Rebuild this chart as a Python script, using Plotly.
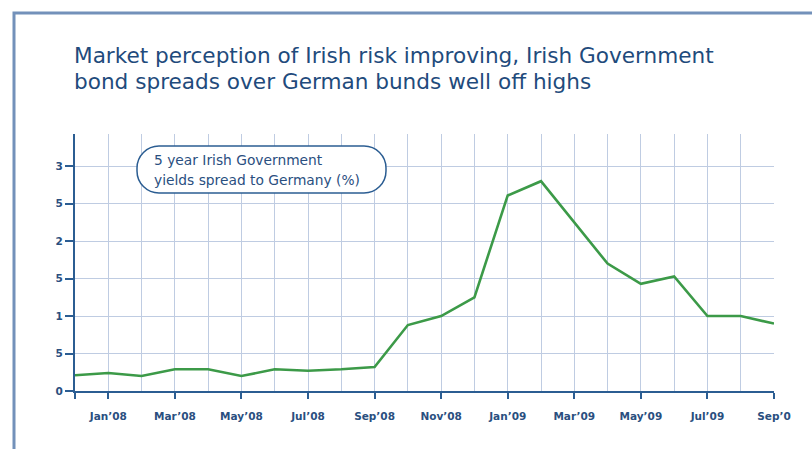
import plotly.graph_objects as go

# ---- data ----
months = ["Dec'07", "Jan'08", "Feb'08", "Mar'08", "Apr'08", "May'08", "Jun'08", "Jul'08",
          "Aug'08", "Sep'08", "Oct'08", "Nov'08", "Dec'08", "Jan'09", "Feb'09", "Mar'09",
          "Apr'09", "May'09", "Jun'09", "Jul'09", "Aug'09", "Sep'09"]
spread = [0.21, 0.24, 0.20, 0.29, 0.29, 0.20, 0.29, 0.27, 0.29, 0.32, 0.88, 1.00,
          1.25, 2.61, 2.80, 2.25, 1.70, 1.43, 1.53, 1.00, 1.00, 0.90]
x_tick_labels = ["", "Jan’08", "Mar’08", "May’08", "Jul’08", "Sep’08", "Nov’08",
                 "Jan’09", "Mar’09", "May’09", "Jul’09", "Sep’0"]
y_tick_vals = [0, 0.5, 1, 1.5, 2, 2.5, 3]
y_tick_labels = ["0", "5", "1", "5", "2", "5", "3"]

title_lines = ["Market perception of Irish risk improving, Irish Government",
               "bond spreads over German bunds well off highs"]
box_lines = ["5 year Irish Government", "yields spread to Germany (%)"]

# ---- geometry helpers ----
W, H = 812, 449
L, R, T, B = 75, 38, 134, 58
PW, PH = W - L - R, H - T - B


def px(x):
    return (x - L) / PW


def py(y):
    return (H - B - y) / PH


AXIS = "#2b5d92"
GRID = "#bfcce2"
GREEN = "#3c9a48"
TEXT = "#2a4f7f"
FONT = "DejaVu Sans, Liberation Sans, Arial, sans-serif"

idx = list(range(len(months)))
x_tick_vals = [0] + [i for i in idx if i % 2 == 1]

fig = go.Figure()
fig.add_trace(go.Scatter(x=idx, y=spread, mode="lines",
                         line=dict(color=GREEN, width=2.6),
                         hoverinfo="skip", showlegend=False))

fig.update_layout(
    width=W, height=H,
    margin=dict(l=L, r=R, t=T, b=B),
    paper_bgcolor="white", plot_bgcolor="white",
    font=dict(family=FONT, color=TEXT),
    xaxis=dict(range=[0, len(months) - 1], tickmode="array",
               tickvals=x_tick_vals, ticktext=x_tick_labels,
               ticks="outside", ticklen=6, tickwidth=2, tickcolor=AXIS,
               showline=True, linecolor=AXIS, linewidth=2,
               showgrid=True, gridcolor=GRID, gridwidth=1,
               zeroline=False, ticklabelstandoff=8,
               tickfont=dict(size=10.5, color=TEXT, family=FONT, weight="bold"),
               minor=dict(tick0=0, dtick=1, showgrid=True, gridcolor=GRID,
                          gridwidth=1, ticks="")),
    yaxis=dict(range=[0, 3.43], tickmode="array",
               tickvals=y_tick_vals, ticktext=y_tick_labels,
               ticks="outside", ticklen=8, tickwidth=2, tickcolor=AXIS,
               showline=True, linecolor=AXIS, linewidth=2,
               showgrid=True, gridcolor=GRID, gridwidth=1,
               zeroline=False,
               tickfont=dict(size=10.5, color=TEXT, family=FONT, weight="bold")),
)

shapes = []
# outer frame
shapes.append(dict(type="rect", xref="paper", yref="paper",
                   x0=px(14), x1=px(830), y0=py(470), y1=py(13),
                   line=dict(color="#7391ba", width=3), layer="below"))

# rounded label box
bx0, bx1, by0, by1, rr = 137, 386, 146, 193, 22
k = 0.5523 * rr


def P(x, y):
    return f"{px(x):.5f},{py(y):.5f}"


path = (f"M {P(bx0 + rr, by0)} L {P(bx1 - rr, by0)} "
        f"C {P(bx1 - rr + k, by0)} {P(bx1, by0 + rr - k)} {P(bx1, by0 + rr)} "
        f"L {P(bx1, by1 - rr)} "
        f"C {P(bx1, by1 - rr + k)} {P(bx1 - rr + k, by1)} {P(bx1 - rr, by1)} "
        f"L {P(bx0 + rr, by1)} "
        f"C {P(bx0 + rr - k, by1)} {P(bx0, by1 - rr + k)} {P(bx0, by1 - rr)} "
        f"L {P(bx0, by0 + rr)} "
        f"C {P(bx0, by0 + rr - k)} {P(bx0 + rr - k, by0)} {P(bx0 + rr, by0)} Z")
shapes.append(dict(type="path", xref="paper", yref="paper", path=path,
                   fillcolor="white", line=dict(color=AXIS, width=1.5), layer="above"))
fig.update_layout(shapes=shapes)

ann = []
for line, yc in zip(title_lines, [55, 81]):
    ann.append(dict(text=line, xref="paper", yref="paper", x=px(72), y=py(yc),
                    xanchor="left", yanchor="middle", showarrow=False,
                    font=dict(size=21.6, color="#1f4b7c", family=FONT)))
for line, yc in zip(box_lines, [160, 180]):
    ann.append(dict(text=line, xref="paper", yref="paper", x=px(152), y=py(yc),
                    xanchor="left", yanchor="middle", showarrow=False,
                    font=dict(size=13.8, color=TEXT, family=FONT)))
fig.update_layout(annotations=ann)

fig.write_html("out.html", config={"displayModeBar": False},
               post_script="document.body.style.margin='0px';")
